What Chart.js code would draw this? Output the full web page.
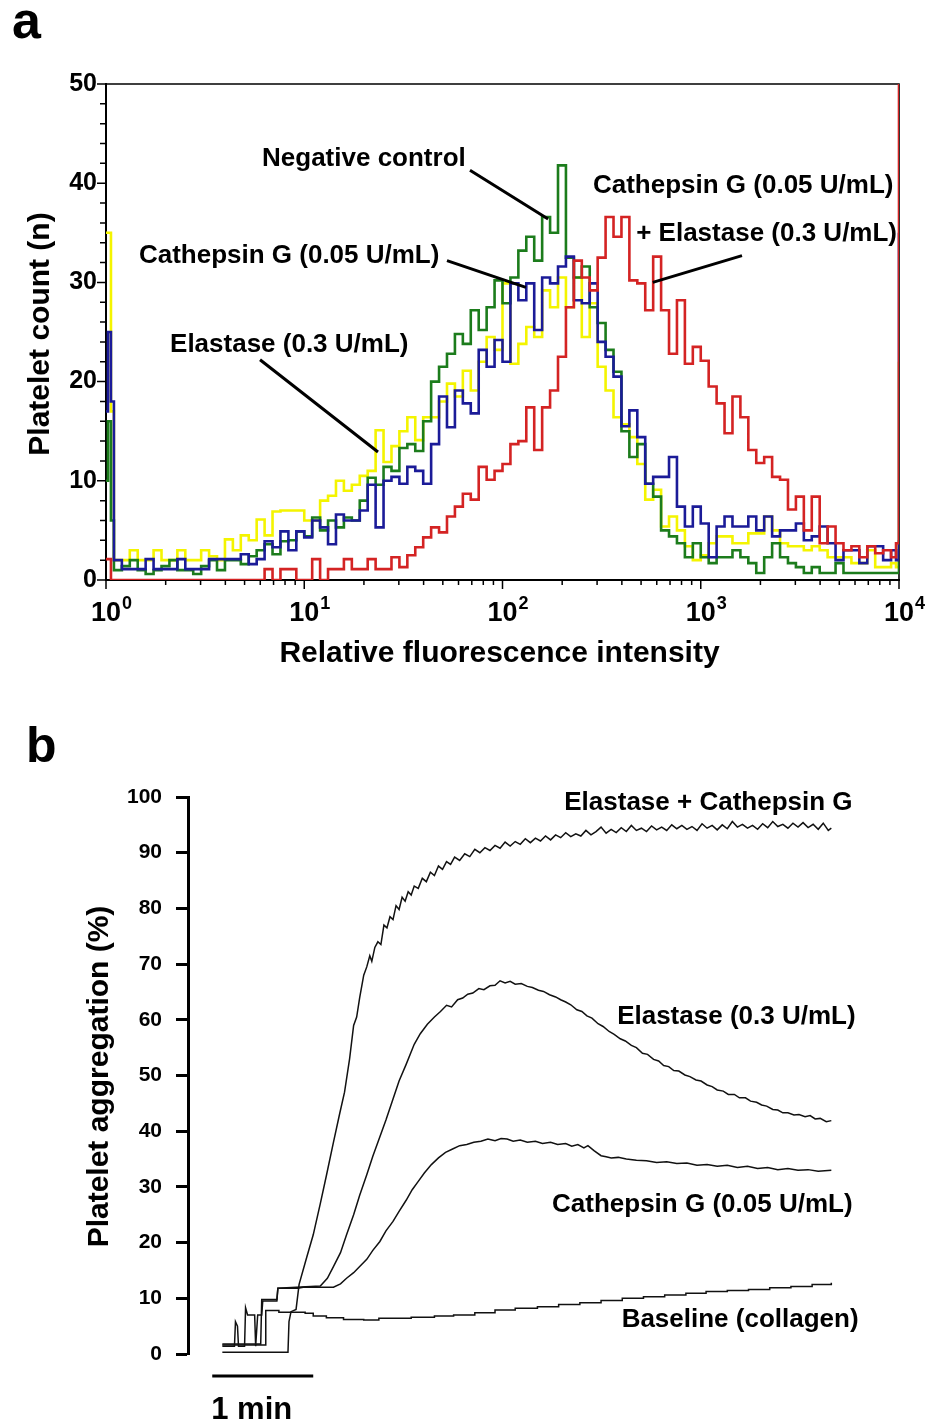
<!DOCTYPE html>
<html>
<head>
<meta charset="utf-8">
<script src="https://cdn.jsdelivr.net/npm/chart.js@4.4.1/dist/chart.umd.min.js"></script>
<style>
  html, body { margin: 0; padding: 0; background: #fff; }
  body { width: 932px; height: 1420px; position: relative; overflow: hidden; }
  .panel { position: absolute; left: 0; width: 932px; }
  #panelA { top: 0; height: 700px; }
  #panelB { top: 700px; height: 720px; }
</style>
</head>
<body>
<div class="panel" id="panelA"><canvas id="chartA"></canvas></div>
<div class="panel" id="panelB"><canvas id="chartB"></canvas></div>
<script>
// ---------- panel a: flow cytometry histograms ----------
// channel positions in decades (0 = 10^0 ... 4 = 10^4)
const channelDecades = [0, 0.01, 0.025,
  0.04, 0.08, 0.12, 0.16, 0.20, 0.24, 0.28, 0.32, 0.36, 0.40,
  0.44, 0.48, 0.52, 0.56, 0.60, 0.64, 0.68, 0.72, 0.76, 0.80,
  0.84, 0.88, 0.92, 0.96, 1.00, 1.04, 1.08, 1.12, 1.16, 1.20,
  1.24, 1.28, 1.32, 1.36, 1.40, 1.44, 1.48, 1.52, 1.56, 1.60,
  1.64, 1.68, 1.72, 1.76, 1.80, 1.84, 1.88, 1.92, 1.96, 2.00,
  2.04, 2.08, 2.12, 2.16, 2.20, 2.24, 2.28, 2.32, 2.36, 2.40,
  2.44, 2.48, 2.52, 2.56, 2.60, 2.64, 2.68, 2.72, 2.76, 2.80,
  2.84, 2.88, 2.92, 2.96, 3.00, 3.04, 3.08, 3.12, 3.16, 3.20,
  3.24, 3.28, 3.32, 3.36, 3.40, 3.44, 3.48, 3.52, 3.56, 3.60,
  3.64, 3.68, 3.72, 3.76, 3.80, 3.84, 3.88, 3.92, 3.96,
  3.985, 4.00];

const negControl = [10, 16, 6,
  1.0, 1.4, 2.0, 1.0, 0.6, 1.0, 1.4, 2.0, 1.0, 1.0,
  0.6, 1.4, 2.0, 1.0, 2.0, 2.0, 1.6, 2.4, 3.0, 3.6,
  2.6, 3.9, 4.0, 4.9, 4.4, 6.3, 5.0, 6.0, 5.3, 6.3,
  6.0, 8.0, 10.3, 9.6, 11.4, 11.0, 13.3, 13.7, 13.0, 16.0,
  20.0, 21.5, 22.8, 24.8, 23.8, 27.2, 25.2, 27.5, 30.2, 27.9,
  30.5, 33.2, 34.6, 32.2, 36.6, 35.0, 41.8, 32.5, 30.5, 31.6,
  27.5, 25.9, 23.2, 21.0, 15.0, 12.4, 13.7, 9.7, 8.4, 5.0,
  4.4, 3.7, 2.3, 3.7, 2.3, 1.7, 2.3, 2.3, 3.0, 2.3,
  1.7, 0.7, 2.3, 3.7, 2.3, 1.7, 1.3, 0.7, 1.3, 0.7,
  0.7, 1.7, 0.7, 0.7, 0.7, 0.7, 0.7, 0.7, 0.7,
  0.7, 4];

const cathepsinG = [17, 25, 18,
  2.0, 1.1, 1.1, 1.1, 2.1, 1.1, 1.1, 1.1, 2.1, 1.1,
  1.1, 1.1, 2.1, 2.1, 2.1, 2.1, 2.6, 1.6, 2.1, 3.9,
  3.3, 4.9, 3.0, 4.9, 4.3, 6.0, 5.3, 3.6, 6.6, 6.0,
  6.0, 7.0, 9.6, 5.3, 10.0, 10.4, 9.7, 11.4, 11.0, 9.7,
  13.7, 18.5, 15.4, 19.1, 17.8, 16.8, 23.2, 21.5, 24.2, 22.0,
  29.9, 28.2, 29.9, 25.2, 30.5, 29.9, 31.6, 32.6, 28.2, 27.9,
  29.9, 24.0, 22.5, 20.5, 15.5, 17.1, 14.4, 9.7, 10.4, 10.4,
  12.4, 7.4, 5.4, 7.4, 5.7, 2.3, 5.4, 6.4, 5.4, 5.4,
  6.4, 5.0, 6.4, 4.4, 5.0, 5.0, 5.7, 4.0, 4.4, 5.4,
  3.7, 2.0, 3.0, 3.0, 1.7, 3.4, 3.4, 2.0, 3.0,
  2.0, 35];

const elastase = [35, 35, 17,
  2.0, 2.0, 3.0, 2.0, 2.0, 3.0, 2.0, 2.0, 3.0, 2.0,
  2.0, 3.0, 2.4, 2.0, 4.1, 3.0, 4.5, 4.0, 6.1, 4.5,
  6.9, 7.0, 7.0, 7.0, 6.0, 6.0, 8.0, 8.5, 10.0, 9.0,
  9.6, 10.5, 11.0, 15.1, 11.9, 13.5, 15.0, 16.4, 14.1, 16.4,
  16.4, 18.0, 19.8, 18.5, 21.1, 19.1, 22.0, 24.5, 23.2, 29.9,
  21.8, 23.8, 25.5, 24.5, 29.2, 27.5, 30.5, 27.5, 30.5, 24.5,
  27.9, 21.5, 19.1, 16.4, 15.7, 14.4, 11.7, 8.1, 9.1, 5.4,
  6.4, 5.0, 3.4, 2.0, 2.5, 3.7, 4.4, 4.4, 3.7, 3.7,
  4.7, 4.7, 6.4, 5.0, 3.7, 3.4, 3.4, 3.0, 3.4, 3.0,
  2.3, 2.3, 2.3, 1.7, 1.7, 3.0, 1.3, 1.3, 1.7,
  1.3, 22];

const cathepsinPlusElastase = [2.1, 2.1, 0,
  0, 0, 0, 0, 0, 0, 0, 0, 0, 0,
  0, 0, 0, 0, 0, 0, 0, 0, 0, 1.1,
  0, 1.1, 1.1, 0, 0, 2.1, 0, 1.1, 1.1, 2.1,
  1.1, 1.1, 2.1, 1.1, 1.1, 2.3, 1.3, 2.5, 3.3, 4.3,
  5.3, 4.8, 6.4, 7.4, 8.7, 8.1, 11.4, 10.1, 11.0, 11.7,
  13.7, 14.0, 17.4, 13.1, 17.4, 19.1, 22.5, 27.5, 32.2, 30.5,
  29.2, 32.5, 36.6, 34.6, 36.6, 30.2, 29.9, 27.2, 32.6, 27.2,
  22.8, 28.2, 21.8, 23.5, 22.1, 19.5, 17.8, 14.8, 18.5, 16.4,
  13.1, 11.8, 12.4, 10.4, 10.1, 7.1, 8.4, 5.0, 8.4, 3.7,
  5.4, 3.7, 3.0, 3.4, 2.3, 3.4, 2.7, 3.0, 2.3,
  3.7, 52];

const decadeTicks = [0, 1, 2, 3, 4];

// ---------- panel b: aggregation traces (time in min, aggregation in %) ----------
const timeCombined = [0.10, 0.40, 0.75, 0.76, 0.78, 0.83, 0.86, 0.93, 1.00, 1.07,
  1.13, 1.20, 1.26, 1.31, 1.36, 1.40, 1.43, 1.46, 1.50, 1.53,
  1.56, 1.58, 1.61, 1.64, 1.67, 1.70, 1.73, 1.76, 1.79, 1.82,
  1.85, 1.88, 1.91, 1.94, 1.97, 2.00, 2.04, 2.08, 2.12, 2.16,
  2.20, 2.24, 2.28, 2.32, 2.36, 2.40, 2.45, 2.50, 2.55, 2.60,
  2.65, 2.70, 2.75, 2.80, 2.85, 2.90, 2.95, 3.00, 3.05, 3.10,
  3.15, 3.20, 3.25, 3.30, 3.35, 3.40, 3.45, 3.50, 3.55, 3.60,
  3.65, 3.70, 3.75, 3.80, 3.85, 3.90, 3.95, 4.00, 4.05, 4.10,
  4.15, 4.20, 4.25, 4.30, 4.35, 4.40, 4.45, 4.50, 4.55, 4.60,
  4.65, 4.70, 4.75, 4.80, 4.85, 4.90, 4.95, 5.00, 5.05, 5.10,
  5.15, 5.20, 5.25, 5.30, 5.35, 5.40, 5.45, 5.50, 5.55, 5.60,
  5.65, 5.70, 5.75, 5.80, 5.85, 5.90, 5.95, 6.00, 6.05, 6.10, 6.13];
const aggCombined = [0.3, 0.3, 0.3, 5.8, 7.6, 8.0, 12.5, 17.0, 21.4, 27.0,
  32.0, 38.0, 43.0, 47.0, 53.0, 59.0, 60.5, 64.0, 68.0, 69.5,
  71.5, 70.5, 73.0, 74.0, 73.5, 77.0, 76.5, 78.5, 78.0, 80.5,
  79.8, 82.0, 81.3, 83.0, 82.4, 84.0, 83.6, 85.4, 84.8, 86.5,
  85.9, 87.6, 87.0, 88.4, 87.9, 89.2, 88.6, 89.8, 89.3, 90.6,
  90.0, 90.9, 90.4, 91.3, 90.8, 91.9, 91.2, 92.0, 91.5, 92.5,
  91.8, 92.6, 92.1, 93.0, 92.3, 93.2, 92.7, 93.6, 92.9, 93.4,
  93.0, 94.0, 93.2, 93.8, 94.6, 93.5, 94.2, 93.6, 94.5, 93.8,
  94.9, 94.0, 94.4, 93.8, 94.8, 94.1, 94.6, 94.0, 95.0, 94.3,
  94.9, 94.2, 94.7, 94.0, 95.2, 94.4, 94.9, 94.1, 95.0, 94.3,
  95.6, 94.6, 95.1, 94.4, 94.9, 94.2, 95.2, 94.5, 95.6, 94.7,
  95.1, 94.4, 95.3, 94.6, 95.4, 94.5, 95.1, 94.2, 95.3, 94.0, 94.4];

const timeElastase = [0.10, 0.22, 0.23, 0.25, 0.26, 0.32, 0.33, 0.35, 0.42, 0.43,
  0.45, 0.49, 0.50, 0.64, 0.65, 1.07, 1.14, 1.20, 1.27, 1.33,
  1.40, 1.46, 1.53, 1.59, 1.66, 1.72, 1.79, 1.85, 1.92, 2.00,
  2.06, 2.13, 2.20, 2.26, 2.32, 2.37, 2.43, 2.48, 2.53, 2.58,
  2.64, 2.69, 2.75, 2.80, 2.85, 2.90, 2.95, 3.00, 3.06, 3.12,
  3.17, 3.23, 3.28, 3.34, 3.40, 3.45, 3.50, 3.55, 3.61, 3.66,
  3.71, 3.76, 3.82, 3.87, 3.93, 3.98, 4.04, 4.09, 4.15, 4.20,
  4.26, 4.31, 4.37, 4.42, 4.47, 4.52, 4.57, 4.62, 4.68, 4.73,
  4.79, 4.84, 4.90, 4.95, 5.00, 5.06, 5.11, 5.17, 5.22, 5.28,
  5.33, 5.39, 5.44, 5.49, 5.55, 5.60, 5.65, 5.70, 5.76, 5.81,
  5.87, 5.92, 5.97, 6.02, 6.08, 6.13];
const aggElastase = [1.4, 1.4, 5.8, 5.0, 1.4, 1.4, 8.3, 7.0, 7.0, 1.4,
  7.0, 7.0, 9.5, 9.5, 11.8, 12.2, 13.6, 15.7, 18.2, 21.4,
  25.0, 28.5, 32.2, 35.5, 39.0, 42.0, 45.8, 49.0, 52.0, 55.6,
  57.5, 59.2, 60.5, 61.5, 62.6, 62.3, 63.6, 63.9, 64.6, 64.8,
  65.6, 65.4, 66.1, 66.2, 67.0, 66.6, 66.9, 66.4, 66.5, 66.0,
  65.8, 65.3, 65.1, 64.5, 64.1, 63.6, 63.2, 62.7, 61.8, 61.5,
  60.7, 60.3, 59.3, 58.8, 57.9, 57.4, 56.6, 56.2, 55.4, 55.0,
  54.0, 53.8, 52.9, 52.6, 51.8, 51.6, 50.9, 50.8, 50.1, 49.8,
  49.2, 49.0, 48.3, 48.0, 47.4, 47.2, 46.6, 46.6, 46.0, 46.0,
  45.4, 45.2, 44.7, 44.5, 43.9, 43.8, 43.3, 43.3, 42.9, 43.0,
  42.6, 42.8, 42.2, 42.3, 41.7, 41.9];

const timeCathepsin = [0.10, 0.48, 0.49, 0.64, 0.65, 0.85, 0.90, 1.20, 1.27, 1.33,
  1.40, 1.46, 1.53, 1.59, 1.66, 1.72, 1.79, 1.85, 1.92, 1.98,
  2.04, 2.10, 2.17, 2.24, 2.31, 2.38, 2.45, 2.52, 2.59, 2.66,
  2.73, 2.80, 2.86, 2.92, 2.98, 3.05, 3.12, 3.20, 3.27, 3.35,
  3.42, 3.50, 3.56, 3.62, 3.68, 3.72, 3.78, 3.85, 3.90, 3.95,
  4.02, 4.10, 4.20, 4.30, 4.40, 4.50, 4.60, 4.70, 4.80, 4.90,
  5.00, 5.10, 5.20, 5.30, 5.40, 5.50, 5.60, 5.70, 5.80, 5.90,
  6.00, 6.13];
const aggCathepsin = [1.8, 1.8, 9.8, 9.8, 11.8, 11.8, 12.0, 12.0, 12.6, 13.6,
  14.6, 15.7, 17.0, 18.6, 20.2, 22.1, 23.8, 25.6, 27.6, 29.5,
  31.0, 32.5, 34.0, 35.2, 36.2, 36.8, 37.4, 37.6, 38.0, 38.2,
  38.6, 38.3, 38.7, 38.6, 38.2, 38.4, 38.0, 38.2, 37.8, 38.0,
  37.6, 37.8, 37.3, 37.6, 37.0, 37.4, 36.5, 35.6, 35.4, 35.2,
  35.3, 35.0, 34.8, 34.7, 34.4, 34.5, 34.2, 34.3, 33.9, 34.0,
  33.7, 33.9, 33.5, 33.7, 33.3, 33.5, 33.1, 33.3, 33.0, 33.1,
  32.8, 33.0];

const timeBaseline = [0.10, 0.52, 0.53, 0.60, 0.66, 0.85, 0.92, 1.00, 1.13, 1.30,
  1.50, 1.65, 1.97, 2.20, 2.39, 2.60, 2.80, 3.00, 3.22, 3.43,
  3.64, 3.85, 4.06, 4.27, 4.48, 4.69, 4.89, 5.10, 5.31, 5.52,
  5.73, 5.94, 6.13];
const aggBaseline = [1.6, 1.6, 7.8, 7.8, 7.5, 7.5, 7.3, 6.8, 6.5, 6.2,
  6.1, 6.4, 6.6, 6.8, 7.0, 7.4, 7.9, 8.2, 8.5, 8.9,
  9.2, 9.6, 10.0, 10.3, 10.6, 10.9, 11.2, 11.4, 11.6, 11.9,
  12.1, 12.5, 12.8];

const aggTicks = [0, 10, 20, 30, 40, 50, 60, 70, 80, 90, 100];

// ---------- helpers ----------
const FAMILY = "'Liberation Sans', Arial, Helvetica, sans-serif";
const bold = px => 'bold ' + px + 'px ' + FAMILY;
const pairs = (xs, ys) => xs.map((x, i) => ({ x: x, y: ys[i] }));

// annotation anchors (data units of each panel)
const histLabels = [
  { text: 'Negative control',        at: [0.787, 41.7], align: 'left' },
  { text: 'Cathepsin G (0.05 U/mL)', at: [0.166, 32.0], align: 'left' },
  { text: 'Elastase (0.3 U/mL)',     at: [0.323, 23.0], align: 'left' },
  { text: 'Cathepsin G (0.05 U/mL)', at: [3.972, 39.0], align: 'right' },
  { text: '+ Elastase (0.3 U/mL)',   at: [3.990, 34.2], align: 'right' }
];
const histPointers = [
  [1.836, 41.3, 2.230, 36.4],
  [1.720, 32.2, 2.118, 29.5],
  [0.777, 22.2, 1.372, 12.9],
  [3.208, 32.7, 2.758, 30.0]
];
const aggLabels = [
  { text: 'Elastase + Cathepsin G',  at: [6.34, 97.7] },
  { text: 'Elastase (0.3 U/mL)',     at: [6.37, 59.2] },
  { text: 'Cathepsin G (0.05 U/mL)', at: [6.34, 25.5] },
  { text: 'Baseline (collagen)',     at: [6.40, 4.9] }
];

// ---------- panel a ----------
const histDecor = {
  id: 'histDecor',
  beforeDatasetsDraw(chart) {
    const { ctx, chartArea: a } = chart;
    ctx.save();
    ctx.strokeStyle = '#000';
    ctx.lineWidth = 1.6;
    ctx.beginPath();
    ctx.moveTo(a.left, a.top);
    ctx.lineTo(a.right, a.top);
    ctx.lineTo(a.right, a.bottom);
    ctx.stroke();
    ctx.restore();
  },
  afterDatasetsDraw(chart) {
    const { ctx, chartArea: a, scales: { x, y } } = chart;
    ctx.save();
    ctx.strokeStyle = '#000';
    ctx.lineWidth = 1.5;
    ctx.beginPath();
    for (let v = 0; v <= 50; v += 2) {
      const py = y.getPixelForValue(v);
      const len = v % 10 === 0 ? 9 : 6;
      ctx.moveTo(a.left - len, py);
      ctx.lineTo(a.left, py);
    }
    decadeTicks.forEach(dec => {
      const px = x.getPixelForValue(dec);
      ctx.moveTo(px, a.bottom);
      ctx.lineTo(px, a.bottom + 9);
      if (dec < 4) {
        for (let m = 2; m <= 9; m++) {
          const mx = x.getPixelForValue(dec + Math.log10(m));
          ctx.moveTo(mx, a.bottom);
          ctx.lineTo(mx, a.bottom + 5);
        }
      }
    });
    ctx.stroke();

    // x tick labels 10^n
    ctx.fillStyle = '#000';
    ctx.textBaseline = 'alphabetic';
    decadeTicks.forEach(dec => {
      const px = x.getPixelForValue(dec);
      ctx.font = bold(27);
      ctx.textAlign = 'center';
      ctx.fillText('10', px, 621);
      const w = ctx.measureText('10').width;
      ctx.font = bold(18);
      ctx.textAlign = 'left';
      ctx.fillText(String(dec), px + w / 2 + 1, 609);
    });

    // axis titles
    ctx.font = bold(30);
    ctx.textAlign = 'center';
    ctx.fillText('Relative fluorescence intensity', (a.left + a.right) / 2 - 3, 662);
    ctx.save();
    ctx.translate(49, (a.top + a.bottom) / 2 + 2);
    ctx.rotate(-Math.PI / 2);
    ctx.fillText('Platelet count (n)', 0, 0);
    ctx.restore();

    // panel letter
    ctx.font = bold(52);
    ctx.textAlign = 'left';
    ctx.fillText('a', 12, 38);

    // annotations
    ctx.lineWidth = 3;
    ctx.beginPath();
    histPointers.forEach(p => {
      ctx.moveTo(x.getPixelForValue(p[0]), y.getPixelForValue(p[1]));
      ctx.lineTo(x.getPixelForValue(p[2]), y.getPixelForValue(p[3]));
    });
    ctx.stroke();
    ctx.font = bold(26);
    histLabels.forEach(l => {
      ctx.textAlign = l.align;
      ctx.fillText(l.text, x.getPixelForValue(l.at[0]), y.getPixelForValue(l.at[1]));
    });
    ctx.restore();
  }
};

function histSet(label, values, color, order) {
  return {
    label: label,
    data: pairs(channelDecades, values),
    borderColor: color,
    borderWidth: 2.6,
    pointRadius: 0,
    stepped: true,
    fill: false,
    order: order
  };
}

new Chart(document.getElementById('chartA'), {
  type: 'line',
  data: {
    datasets: [
      histSet('Cathepsin G + Elastase', cathepsinPlusElastase, '#d42323', 0),
      histSet('Cathepsin G', cathepsinG, '#1b1b98', 1),
      histSet('Negative control', negControl, '#1c7c1c', 2),
      histSet('Elastase', elastase, '#f4f400', 3)
    ]
  },
  options: {
    responsive: true,
    maintainAspectRatio: false,
    animation: false,
    events: [],
    layout: { padding: { left: 0, right: 33, top: 84, bottom: 0 } },
    plugins: { legend: { display: false }, tooltip: { enabled: false } },
    scales: {
      x: {
        type: 'linear', min: 0, max: 4,
        grid: { display: false },
        border: { display: true, color: '#000', width: 2 },
        ticks: { display: false },
        afterFit: s => { s.height = 120; }
      },
      y: {
        min: 0, max: 50,
        ticks: { stepSize: 10, color: '#000', padding: 0, font: { family: FAMILY, size: 25, weight: 'bold' } },
        grid: { display: true, drawOnChartArea: false, drawTicks: true, tickLength: 9, tickColor: 'rgba(0,0,0,0)' },
        border: { display: true, color: '#000', width: 2 },
        afterFit: s => { s.width = 106; }
      }
    }
  },
  plugins: [histDecor]
});

// ---------- panel b ----------
const aggDecor = {
  id: 'aggDecor',
  afterDraw(chart) {
    const { ctx, chartArea: a, scales: { x, y } } = chart;
    ctx.save();
    ctx.fillStyle = '#000';
    ctx.strokeStyle = '#000';
    // 1 min scale bar
    ctx.lineWidth = 3;
    ctx.beginPath();
    ctx.moveTo(x.getPixelForValue(0), a.bottom + 22);
    ctx.lineTo(x.getPixelForValue(1), a.bottom + 22);
    ctx.stroke();
    ctx.font = bold(31);
    ctx.textAlign = 'left';
    ctx.textBaseline = 'alphabetic';
    ctx.fillText('1 min', x.getPixelForValue(0) - 1, 719);

    // y title
    ctx.font = bold(30);
    ctx.textAlign = 'center';
    ctx.save();
    ctx.translate(108, (a.top + a.bottom) / 2 + 1);
    ctx.rotate(-Math.PI / 2);
    ctx.fillText('Platelet aggregation (%)', 0, 0);
    ctx.restore();

    // panel letter
    ctx.font = bold(50);
    ctx.textAlign = 'left';
    ctx.fillText('b', 26, 62);

    // trace labels
    ctx.font = bold(26);
    ctx.textAlign = 'right';
    aggLabels.forEach(l => {
      ctx.fillText(l.text, x.getPixelForValue(l.at[0]), y.getPixelForValue(l.at[1]));
    });
    ctx.restore();
  }
};

function traceSet(label, xs, ys, stepped) {
  return {
    label: label,
    data: pairs(xs, ys),
    borderColor: '#111',
    borderWidth: 1.5,
    pointRadius: 0,
    stepped: stepped,
    fill: false
  };
}

new Chart(document.getElementById('chartB'), {
  type: 'line',
  data: {
    datasets: [
      traceSet('Elastase + Cathepsin G', timeCombined, aggCombined, false),
      traceSet('Elastase (0.3 U/mL)', timeElastase, aggElastase, false),
      traceSet('Cathepsin G (0.05 U/mL)', timeCathepsin, aggCathepsin, false),
      traceSet('Baseline (collagen)', timeBaseline, aggBaseline, true)
    ]
  },
  options: {
    responsive: true,
    maintainAspectRatio: false,
    animation: false,
    events: [],
    layout: { padding: { left: 0, right: 32, top: 97, bottom: 66 } },
    plugins: { legend: { display: false }, tooltip: { enabled: false } },
    scales: {
      x: { type: 'linear', min: -0.24, max: 6.81, display: false },
      y: {
        min: 0, max: 100,
        afterBuildTicks: s => { s.ticks = aggTicks.map(v => ({ value: v })); },
        ticks: { color: '#000', padding: 14, font: { family: FAMILY, size: 21, weight: 'bold' } },
        grid: { display: true, drawOnChartArea: false, drawTicks: true, tickLength: 12, tickWidth: 3, tickColor: '#000' },
        border: { display: true, color: '#000', width: 3 },
        afterFit: s => { s.width = 188; }
      }
    }
  },
  plugins: [aggDecor]
});
</script>
</body>
</html>
